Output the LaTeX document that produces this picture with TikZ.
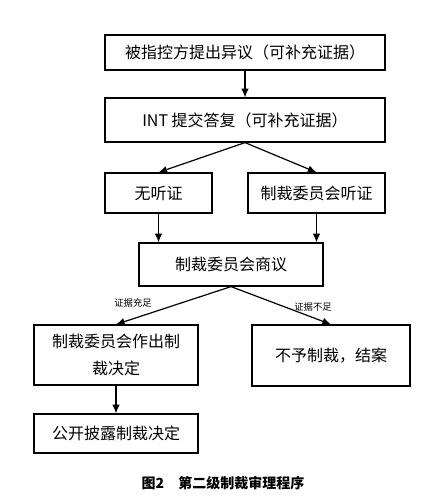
\documentclass[tikz,border=0pt]{standalone}
\usepackage{fontspec}
\setmainfont{Noto Sans CJK SC}
\usetikzlibrary{arrows.meta}

\tikzset{
	box/.style={draw, line width=0.9pt, inner sep=0pt, align=center, font=\fontsize{12}{20}\selectfont},
	note/.style={inner sep=1pt, font=\fontsize{7}{8}\selectfont},
	flow/.style={line width=0.9pt, -{Latex[length=6.5pt, width=5.5pt]}},
}

\begin{document}
\begin{tikzpicture}[x=0.75pt, y=-0.75pt]
	\useasboundingbox (0,0) rectangle (444,503);

	\node[box, minimum width=210pt, minimum height=26.25pt] (object) at (245,52.5) {被指控方提出异议（可补充证据）};
	\node[box, minimum width=210pt, minimum height=33pt] (reply) at (245,120) {INT 提交答复（可补充证据）};
	\node[box, minimum width=80.25pt, minimum height=30pt] (nohear) at (158.5,193) {无听证};
	\node[box, minimum width=102.75pt, minimum height=30pt] (hear) at (316.5,193) {制裁委员会听证};
	\node[box, minimum width=138pt, minimum height=32.25pt] (discuss) at (231,264.5) {制裁委员会商议};
	\node[box, minimum width=123pt, minimum height=45pt] (decide) at (116,355) {制裁委员会作出制\\裁决定};
	\node[box, minimum width=118.5pt, minimum height=45.75pt] (drop) at (331,355.5) {不予制裁，结案};
	\node[box, minimum width=123pt, minimum height=29.25pt] (publish) at (116,433.5) {公开披露制裁决定};

	\node[note] (enough) at (133,303) {证据充足};
	\node[note] (notenough) at (313,307) {证据不足};

	\node[font=\fontsize{10.5}{12}\selectfont\bfseries] (caption) at (223,483) {图2\quad 第二级制裁审理程序};

	\draw[flow] (object) -- (reply);
	\draw[flow] (reply.south) -- (nohear.north);
	\draw[flow] (reply.south) -- (hear.north);
	\draw[flow] (nohear) -- (nohear |- discuss.north);
	\draw[flow] (hear) -- (hear |- discuss.north);
	\draw[flow] (discuss.south) -- (decide.north);
	\draw[flow] (discuss.south) -- (drop.north);
	\draw[flow] (decide) -- (publish);

\end{tikzpicture}
\end{document}
